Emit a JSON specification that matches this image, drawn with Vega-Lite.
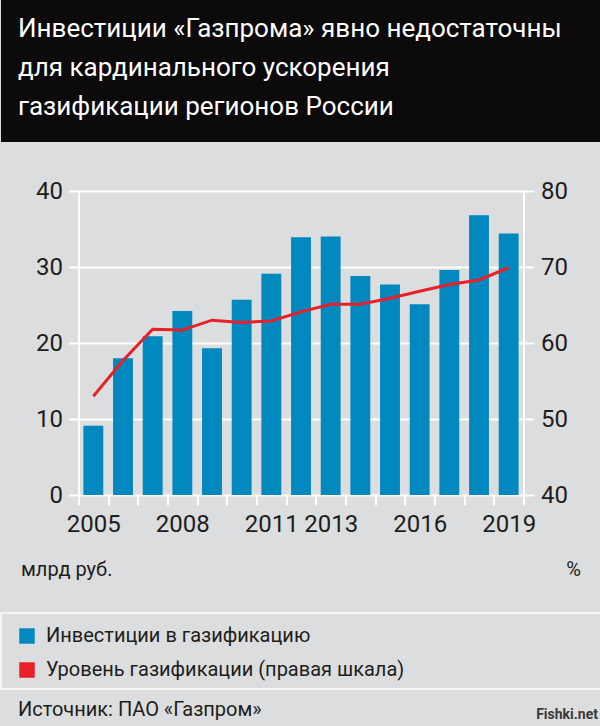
{
  "$schema": "https://vega.github.io/schema/vega-lite/v6.json",
  "background": "#dcdddf",
  "padding": {"left": 0, "top": 0, "right": 0, "bottom": 8},
  "spacing": 49,
  "center": true,
  "bounds": "flush",
  "datasets": {
    "gas": [
      {"year": 2005, "invest": 9.1, "level": 53.0},
      {"year": 2006, "invest": 18.0, "level": 57.7},
      {"year": 2007, "invest": 20.9, "level": 61.8},
      {"year": 2008, "invest": 24.2, "level": 61.7},
      {"year": 2009, "invest": 19.3, "level": 63.0},
      {"year": 2010, "invest": 25.7, "level": 62.7},
      {"year": 2011, "invest": 29.1, "level": 62.9},
      {"year": 2012, "invest": 33.9, "level": 64.1},
      {"year": 2013, "invest": 34.0, "level": 65.1},
      {"year": 2014, "invest": 28.8, "level": 65.1},
      {"year": 2015, "invest": 27.7, "level": 65.9},
      {"year": 2016, "invest": 25.1, "level": 66.8},
      {"year": 2017, "invest": 29.6, "level": 67.7},
      {"year": 2018, "invest": 36.8, "level": 68.3},
      {"year": 2019, "invest": 34.4, "level": 69.9}
    ],
    "blank": [{"k": 0}]
  },
  "vconcat": [
    {
      "width": 600,
      "height": 142,
      "view": {"fill": "#0c0a0b", "stroke": null},
      "data": {"name": "blank"},
      "mark": {"type": "point", "opacity": 0},
      "encoding": {},
      "title": {
        "text": ["Инвестиции «Газпрома» явно недостаточны", "для кардинального ускорения", "газификации регионов России"],
        "orient": "bottom",
        "anchor": "start",
        "frame": "group",
        "baseline": "top",
        "offset": -126,
        "dx": 17,
        "fontSize": 26,
        "lineHeight": 39,
        "fontWeight": "normal",
        "color": "#ffffff"
      }
    },
    {
      "width": 445,
      "height": 304,
      "data": {"name": "gas"},
      "encoding": {
        "x": {
          "field": "year",
          "type": "ordinal",
          "scale": {"paddingInner": 0, "paddingOuter": 0},
          "axis": {
            "tickBand": "extent",
            "domain": false,
            "grid": false,
            "labelAngle": 0,
            "labelPadding": 7,
            "labelExpr": "indexof([2005, 2008, 2011, 2013, 2016, 2019], datum.value) >= 0 ? datum.label : ''",
            "title": "Fishki.net",
            "titleX": 519,
            "titleY": 219,
            "titleAlign": "right",
            "titleBaseline": "middle",
            "titleFontSize": 14,
            "titleFontWeight": "bold",
            "titleColor": "#3a3a3a"
          }
        }
      },
      "layer": [
        {
          "mark": {"type": "bar", "width": {"band": 0.67}},
          "encoding": {
            "y": {
              "field": "invest",
              "type": "quantitative",
              "scale": {"domain": [0, 40], "nice": false},
              "axis": {
                "orient": "left",
                "values": [0, 10, 20, 30, 40],
                "grid": true,
                "labelPadding": 6,
                "title": "млрд руб.",
                "titleAngle": 0,
                "titleAlign": "left",
                "titleBaseline": "alphabetic",
                "titleX": -58,
                "titleY": 384
              }
            },
            "color": {
              "datum": "Инвестиции в газификацию",
              "type": "nominal",
              "scale": {
                "domain": ["Инвестиции в газификацию", "Уровень газификации (правая шкала)"],
                "range": ["#0088bf", "#e8202a"]
              },
              "legend": {
                "orient": "none",
                "legendX": 16,
                "legendY": 626,
                "title": null,
                "direction": "vertical",
                "symbolType": "square",
                "symbolSize": 240,
                "symbolStrokeWidth": 0,
                "symbolOpacity": 1,
                "labelFontSize": 20,
                "labelColor": "#1d1d1b",
                "labelOffset": 9,
                "labelLimit": 500,
                "rowPadding": 14,
                "padding": 0
              }
            }
          }
        },
        {
          "mark": {"type": "line", "strokeWidth": 3},
          "encoding": {
            "y": {
              "field": "level",
              "type": "quantitative",
              "scale": {"domain": [40, 80], "nice": false, "zero": false},
              "axis": {
                "orient": "right",
                "values": [40, 50, 60, 70, 80],
                "grid": false,
                "labelPadding": 7,
                "title": "%",
                "titleAngle": 0,
                "titleAlign": "right",
                "titleBaseline": "alphabetic",
                "titleX": 57,
                "titleY": 384
              }
            },
            "color": {"datum": "Уровень газификации (правая шкала)", "type": "nominal"}
          }
        }
      ],
      "resolve": {"scale": {"y": "independent"}}
    },
    {
      "width": 600,
      "height": 20,
      "data": {"name": "blank"},
      "mark": {"type": "point", "opacity": 0},
      "encoding": {}
    },
    {
      "width": 600,
      "height": 76,
      "view": {"stroke": "#f6f6f6", "strokeWidth": 2, "fill": null},
      "data": {"name": "blank"},
      "mark": {"type": "point", "opacity": 0},
      "encoding": {},
      "title": {
        "text": "Источник: ПАО «Газпром»",
        "orient": "bottom",
        "anchor": "start",
        "frame": "group",
        "baseline": "top",
        "offset": 11,
        "dx": 17,
        "fontSize": 20,
        "fontWeight": "normal",
        "color": "#1d1d1b"
      }
    }
  ],
  "config": {
    "font": "Roboto",
    "view": {"stroke": null},
    "axis": {
      "labelFontSize": 24,
      "labelColor": "#1d1d1b",
      "domainColor": "#ffffff",
      "domainWidth": 2,
      "tickColor": "#ffffff",
      "tickWidth": 2,
      "tickSize": 10,
      "gridColor": "#ffffff",
      "gridWidth": 2,
      "titleFontSize": 20,
      "titleFontWeight": "normal",
      "titleColor": "#1d1d1b"
    },
    "legend": {"labelFont": "Roboto"}
  }
}
